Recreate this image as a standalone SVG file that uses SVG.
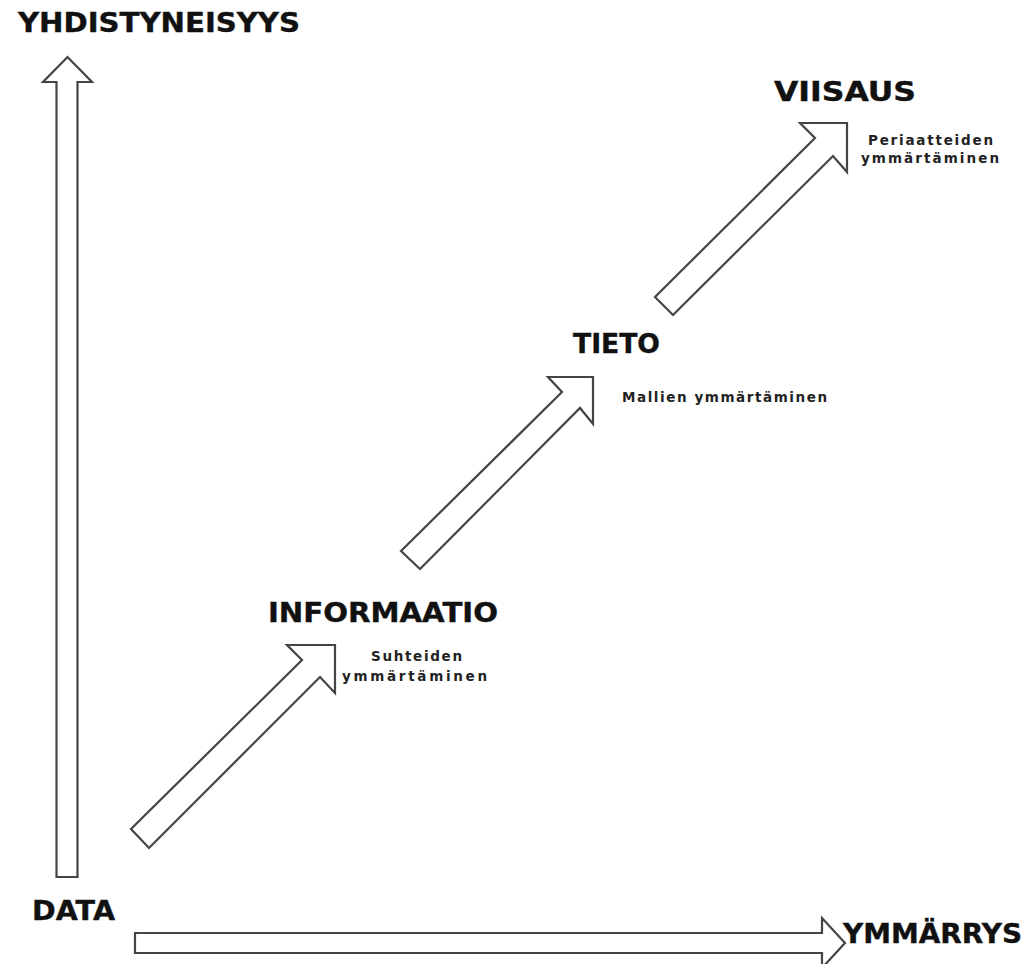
<svg xmlns="http://www.w3.org/2000/svg" width="1031" height="964" viewBox="0 0 1031 964">
<style>
.arrow{fill:#fff;stroke:#444;stroke-width:2.2;stroke-linejoin:miter}
.big{font-family:"DejaVu Sans",Verdana,sans-serif;font-weight:bold;font-size:26.5px;fill:#111;stroke:#111;stroke-width:0.4}
.small{font-family:"DejaVu Sans",Verdana,sans-serif;font-weight:bold;font-size:13.5px;fill:#222}
</style>
<rect width="1031" height="964" fill="#fff"/>
<g id="connectors">
<polygon id="axis-y" class="arrow" points="67.5,57 92,82 77.5,82 77.5,877 56.5,877 56.5,82 43,82"/>
<polygon id="axis-x" class="arrow" points="135,933 822,933 822,918 845,943 822,968 822,953 135,953"/>
<polygon id="arrow-data-info" class="arrow" points="131,829 302,660 287,645 335,645 335,693 320,677 149,848"/>
<polygon id="arrow-info-tieto" class="arrow" points="401,551 562,392 548,377 593,377 593,424 580,408 420,569"/>
<polygon id="arrow-tieto-viisaus" class="arrow" points="655,297 815,138 800,123 847,123 847,172 833,156 673,315"/>
</g>
<g id="yhdistyneisyys"><text class="big" x="18" y="32" textLength="282" lengthAdjust="spacingAndGlyphs">YHDISTYNEISYYS</text></g>
<g id="data"><text class="big" x="32" y="920" textLength="83" lengthAdjust="spacingAndGlyphs">DATA</text></g>
<g id="ymmarrys"><text class="big" x="843" y="943" textLength="179" lengthAdjust="spacingAndGlyphs">YMMÄRRYS</text></g>
<g id="informaatio">
<text class="big" x="268" y="622" textLength="230" lengthAdjust="spacingAndGlyphs">INFORMAATIO</text>
<text class="small" x="371" y="661" textLength="91" lengthAdjust="spacing">Suhteiden</text>
<text class="small" x="342" y="681" textLength="145" lengthAdjust="spacing">ymmärtäminen</text>
</g>
<g id="tieto">
<text class="big" x="573" y="353" textLength="87" lengthAdjust="spacingAndGlyphs">TIETO</text>
<text class="small" x="622" y="402" textLength="205" lengthAdjust="spacing">Mallien ymmärtäminen</text>
</g>
<g id="viisaus">
<text class="big" x="774" y="101" textLength="142" lengthAdjust="spacingAndGlyphs">VIISAUS</text>
<text class="small" x="868" y="145" textLength="125" lengthAdjust="spacing">Periaatteiden</text>
<text class="small" x="861" y="163" textLength="138" lengthAdjust="spacing">ymmärtäminen</text>
</g>
</svg>
